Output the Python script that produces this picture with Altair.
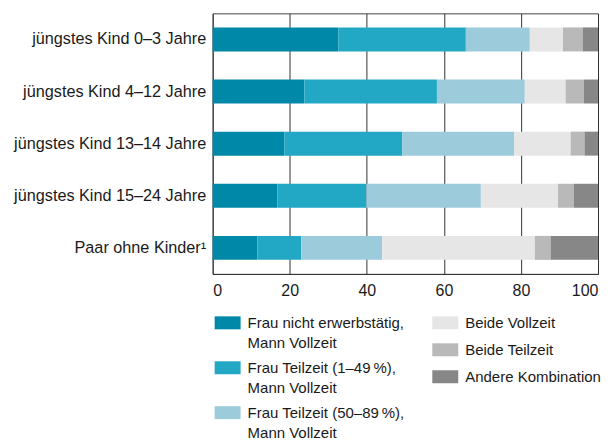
import altair as alt
import pandas as pd

rows = ["jüngstes Kind 0–3 Jahre", "jüngstes Kind 4–12 Jahre", "jüngstes Kind 13–14 Jahre",
        "jüngstes Kind 15–24 Jahre", "Paar ohne Kinder¹"]
series = ["Frau nicht erwerbstätig,|Mann Vollzeit",
          "Frau Teilzeit (1–49\u2009%),|Mann Vollzeit",
          "Frau Teilzeit (50–89\u2009%),|Mann Vollzeit",
          "Beide Vollzeit", "Beide Teilzeit", "Andere Kombination"]
colors = ["#0088a8", "#22a8c4", "#9ccbdc", "#e6e6e6", "#b9b9b9", "#878787"]

s1 = [32.6, 23.8, 18.6, 16.8, 11.6]
s2 = [33.1, 34.4, 30.6, 23.1, 11.4]
s3 = [16.6, 22.8, 29.0, 29.7, 21.0]
s4 = [8.6, 10.6, 14.7, 20.0, 39.6]
s5 = [5.1, 4.7, 3.6, 4.1, 4.1]
s6 = [4.0, 3.7, 3.5, 6.3, 12.3]
vals = [s1, s2, s3, s4, s5, s6]

recs = []
for i, (s, v) in enumerate(zip(series, vals)):
    for r, x in zip(rows, v):
        recs.append({"row": r, "series": s, "idx": i, "value": x})
df = pd.DataFrame(recs)

FONT = "Liberation Sans"
TXT = "#1a1a1a"
DY = -6.5

base = alt.Chart(df).transform_stack(
    stack="value", groupby=["row"], as_=["x0", "x1"], sort=[alt.SortField("idx")]
)

xenc = alt.X("x0:Q", scale=alt.Scale(domain=[0, 100], nice=False),
             axis=alt.Axis(values=[0, 20, 40, 60, 80, 100], grid=True, gridColor="#333",
                           gridOpacity=1, gridWidth=1, domainColor="#333", ticks=False,
                           labelPadding=9 - DY, labelFontSize=16, title=None))
yenc = alt.Y("row:N", sort=rows,
             scale=alt.Scale(paddingInner=0.54, paddingOuter=0.27),
             axis=alt.Axis(title=None, ticks=False, domain=False, labelPadding=7,
                           labelOffset=-DY, labelFontSize=16.25, labelLimit=0, grid=False))

sym = "M-1,-0.5H1V0.5H-1Z"

left = base.transform_filter("datum.idx < 3").mark_bar(opacity=1).encode(
    x=xenc, x2="x1:Q", y=yenc,
    color=alt.Color("series:N",
                    scale=alt.Scale(domain=series[:3], range=colors[:3]),
                    legend=alt.Legend(orient="none", legendX=2, legendY=297, title=None,
                                      symbolType=sym, symbolSize=676, symbolStrokeWidth=0,
                                      symbolOpacity=1, labelFontSize=15, labelOffset=7,
                                      labelLimit=0, rowPadding=3, labelBaseline="top",
                                      labelExpr="split(datum.label, '|')")),
)
right = base.transform_filter("datum.idx >= 3").mark_bar(opacity=1).encode(
    x=xenc, x2="x1:Q", y=yenc,
    color=alt.Color("series:N",
                    scale=alt.Scale(domain=series[3:], range=colors[3:]),
                    legend=alt.Legend(orient="none", legendX=220, legendY=297, title=None,
                                      symbolType=sym, symbolSize=676, symbolStrokeWidth=0,
                                      symbolOpacity=1, labelFontSize=15, labelOffset=7,
                                      labelLimit=0, rowPadding=5, labelBaseline="top")),
)

chart = alt.layer(left, right).resolve_scale(color="independent").properties(
    width=386, height=261
).configure(font=FONT, style={"guide-label": {"lineHeight": 20, "dy": DY}}).configure_view(
    stroke="#444", strokeWidth=1
).configure_axis(
    labelColor=TXT, labelFont=FONT
).configure_legend(labelColor=TXT, labelFont=FONT)

chart.save("out.html", embed_options={"renderer": "svg", "actions": False})
